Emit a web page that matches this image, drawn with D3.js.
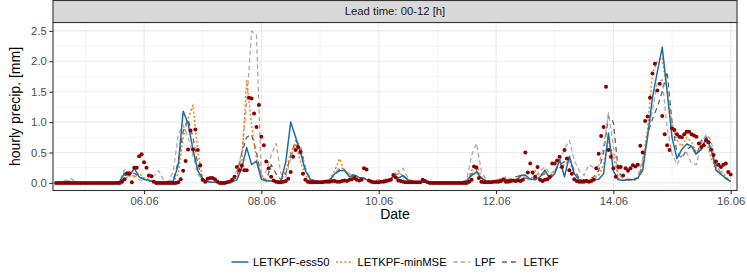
<!DOCTYPE html>
<html>
<head>
<meta charset="utf-8">
<script src="https://cdn.jsdelivr.net/npm/d3@7"></script>
<style>
    body { margin: 0; background: #fff; }
    #precip-chart { width: 747px; height: 280px; }
    text { font-family: "Liberation Sans", Arial, Helvetica, sans-serif; }
</style>
</head>
<body>
<div id="precip-chart"></div>
<script>
// first value of every series at 04.06 12:00 UTC
const startTime = Date.UTC(2016, 5, 4, 12);
const obsStepHours = 1;
const lineStepHours = 2;

// hourly observations
const obsValues = [
    0, 0, 0, 0, 0, 0, 0, 0, 0, 0, 0, 0,
    0, 0, 0, 0, 0, 0, 0, 0, 0, 0, 0, 0, 0, 0, 0, 0.02, 0.06, 0.16, 0.16, 0.01, 0.25, 0.25, 0.44, 0.47,
    0.34, 0.25, 0.12, 0.11, 0.02, 0, 0, 0, 0, 0, 0, 0, 0, 0, 0.01, 0.06, 0.2, 0.36, 0.55, 0.86, 0.55, 0.88, 0.54, 0.29,
    0.05, 0.02, 0.07, 0.08, 0.08, 0.06, 0.02, 0, 0, 0, 0.01, 0.02, 0.05, 0.1, 0.26, 0.21, 0.28, 0.21, 0.21, 1.4, 1.39, 1.14, 0.92, 1.28,
    0.76, 0.62, 0.35, 0.24, 0.1, 0.04, 0.02, 0.01, 0.01, 0.02, 0.03, 0.07, 0.18, 0.43, 0.54, 0.59, 0.51, 0.15, 0.05, 0.02, 0.01, 0.01, 0.01, 0.01,
    0.01, 0.01, 0.02, 0.02, 0.02, 0.03, 0.03, 0.02, 0.02, 0.03, 0.04, 0.03, 0.05, 0.06, 0.08, 0.05, 0.04, 0.05, 0.24, 0.22, 0.04, 0.02, 0.01, 0.01,
    0.01, 0.02, 0.02, 0.03, 0.04, 0.05, 0.13, 0.09, 0.04, 0.03, 0.02, 0.01, 0.01, 0.01, 0.01, 0.01, 0.01, 0.01, 0.05, 0.03, 0.01, 0, 0, 0,
    0, 0, 0, 0, 0, 0, 0, 0, 0, 0, 0, 0, 0, 0.02, 0.05, 0.27, 0.25, 0.08, 0.02, 0.01, 0.01, 0.01, 0.01, 0.02,
    0.02, 0.02, 0.03, 0.05, 0.02, 0.02, 0.03, 0.04, 0.03, 0.04, 0.03, 0.05, 0.5, 0.17, 0.32, 0.17, 0.1, 0.26, 0.05, 0.03, 0.05, 0.06, 0.1, 0.32,
    0.32, 0.37, 0.43, 0.26, 0.54, 0.4, 0.21, 0.15, 0.06, 0.03, 0.02, 0.02, 0.02, 0.03, 0.02, 0.03, 0.05, 0.24, 0.48, 0.77, 0.92, 1.58, 0.54, 0.43,
    0.24, 0.1, 0.26, 0.26, 0.12, 0.24, 0.2, 0.24, 0.29, 0.27, 0.3, 0.61, 0.5, 1.02, 1.09, 1.4, 1.8, 1.96, 1.52, 1.63, 1.1, 0.8, 0.62, 0.54,
    0.9, 0.87, 0.8, 0.76, 0.75, 0.8, 0.84, 0.84, 0.8, 0.78, 0.76, 0.65, 0.59, 0.62, 0.7, 0.67, 0.55, 0.46, 0.35, 0.3, 0.26, 0.3, 0.32, 0.18,
    0.14
];

// 2-hourly forecasts
const ess50Values = [
    0, 0.01, 0.01, 0.01, 0, 0,
    0, 0, 0, 0, 0, 0, 0.01, 0.02, 0.16, 0.12, 0.24, 0.1,
    0.06, 0.04, 0.02, 0.01, 0.01, 0.01, 0.03, 0.3, 1.18, 0.98, 0.55, 0.2,
    0.06, 0.02, 0.01, 0.01, 0.01, 0.01, 0.02, 0.05, 0.25, 0.58, 0.3, 0.36,
    0.06, 0.03, 0.03, 0.02, 0.03, 0.35, 1.0, 0.75, 0.5, 0.2, 0.06, 0.03,
    0.02, 0.02, 0.05, 0.15, 0.2, 0.21, 0.1, 0.13, 0.09, 0.08, 0.03, 0.02,
    0.02, 0.03, 0.04, 0.1, 0.08, 0.12, 0.05, 0.02, 0.01, 0.01, 0.01, 0.01,
    0.01, 0.01, 0.01, 0.01, 0.01, 0.01, 0.03, 0.12, 0.18, 0.08, 0.03, 0.02,
    0.02, 0.03, 0.06, 0.04, 0.02, 0.12, 0.13, 0.06, 0.05, 0.1, 0.21, 0.07,
    0.15, 0.38, 0.1, 0.44, 0.15, 0.05, 0.04, 0.04, 0.05, 0.06, 0.15, 0.82,
    0.2, 0.05, 0.04, 0.06, 0.05, 0.08, 0.21, 0.76, 1.4, 1.83, 2.23, 1.5,
    0.75, 0.4, 0.55, 0.64, 0.6, 0.48, 0.55, 0.75, 0.55, 0.21, 0.14, 0.08,
    0.02
];

const minMSEValues = [
    0, 0, 0, 0.01, 0, 0,
    0, 0, 0, 0, 0, 0, 0, 0.01, 0.06, 0.12, 0.1, 0.16,
    0.08, 0.05, 0.03, 0.01, 0.01, 0.01, 0.02, 0.15, 0.75, 1.05, 1.28, 0.5,
    0.06, 0.02, 0.01, 0.01, 0.01, 0.01, 0.02, 0.1, 0.35, 1.68, 0.95, 0.4,
    0.12, 0.05, 0.03, 0.02, 0.03, 0.2, 0.5, 0.65, 0.35, 0.12, 0.04, 0.03,
    0.02, 0.03, 0.06, 0.2, 0.4, 0.2, 0.12, 0.1, 0.08, 0.06, 0.03, 0.02,
    0.02, 0.03, 0.05, 0.12, 0.2, 0.1, 0.05, 0.02, 0.01, 0.01, 0.01, 0.01,
    0.01, 0.01, 0.01, 0.01, 0.01, 0.01, 0.04, 0.2, 0.3, 0.1, 0.03, 0.02,
    0.03, 0.05, 0.08, 0.04, 0.06, 0.1, 0.08, 0.05, 0.2, 0.12, 0.18, 0.1,
    0.2, 0.25, 0.3, 0.36, 0.15, 0.05, 0.03, 0.04, 0.08, 0.12, 0.3, 0.7,
    0.45, 0.08, 0.04, 0.05, 0.04, 0.06, 0.3, 0.9, 1.8, 2.0, 2.06, 1.5,
    0.95, 0.7, 0.6, 0.75, 0.67, 0.5, 0.55, 0.7, 0.4, 0.25, 0.2, 0.1,
    0.03
];

const lpfValues = [
    0, 0.02, 0.04, 0.07, 0.02, 0,
    0, 0, 0, 0, 0, 0, 0.01, 0.02, 0.22, 0.1, 0.12, 0.05,
    0.04, 0.06, 0.12, 0.2, 0.05, 0.02, 0.2, 0.8, 0.95, 0.75, 0.45, 0.15,
    0.04, 0.01, 0.01, 0.01, 0.01, 0.02, 0.05, 0.2, 0.5, 1.3, 2.5, 2.43,
    0.08, 0.2, 0.45, 0.65, 0.15, 0.1, 0.4, 0.65, 0.55, 0.25, 0.05, 0.03,
    0.03, 0.04, 0.06, 0.15, 0.26, 0.22, 0.15, 0.12, 0.1, 0.08, 0.05, 0.04,
    0.05, 0.06, 0.06, 0.1, 0.15, 0.24, 0.08, 0.03, 0.02, 0.02, 0.02, 0.01,
    0.01, 0.01, 0.01, 0.01, 0.01, 0.02, 0.05, 0.45, 0.65, 0.2, 0.04, 0.03,
    0.05, 0.08, 0.1, 0.05, 0.06, 0.08, 0.1, 0.05, 0.1, 0.2, 0.26, 0.15,
    0.2, 0.35, 0.55, 0.7, 0.37, 0.2, 0.12, 0.3, 0.25, 0.28, 0.6, 1.15,
    0.6, 0.15, 0.06, 0.05, 0.06, 0.1, 0.4, 0.8, 1.2, 1.65, 1.7, 0.9,
    0.48, 0.3, 0.45, 0.5, 0.32, 0.3, 0.65, 0.8, 0.7, 0.26, 0.15, 0.08,
    0.04
];

const letkfValues = [
    0, 0.01, 0.02, 0.03, 0.01, 0,
    0, 0, 0, 0, 0, 0, 0, 0.01, 0.12, 0.14, 0.16, 0.1,
    0.06, 0.03, 0.02, 0.01, 0.01, 0.01, 0.05, 0.35, 0.85, 1.05, 0.75, 0.3,
    0.06, 0.02, 0.01, 0.01, 0.01, 0.01, 0.03, 0.1, 0.5, 0.75, 0.8, 0.5,
    0.1, 0.04, 0.3, 0.15, 0.05, 0.15, 0.45, 0.7, 0.6, 0.25, 0.06, 0.03,
    0.02, 0.03, 0.05, 0.15, 0.22, 0.2, 0.15, 0.12, 0.09, 0.07, 0.03, 0.02,
    0.02, 0.04, 0.05, 0.12, 0.15, 0.12, 0.04, 0.02, 0.01, 0.01, 0.01, 0.01,
    0.01, 0.01, 0.01, 0.01, 0.01, 0.01, 0.04, 0.15, 0.2, 0.08, 0.03, 0.02,
    0.04, 0.06, 0.05, 0.06, 0.1, 0.12, 0.08, 0.06, 0.08, 0.12, 0.15, 0.1,
    0.2, 0.3, 0.35, 0.4, 0.2, 0.08, 0.05, 0.06, 0.1, 0.2, 0.5, 1.1,
    1.0, 0.2, 0.05, 0.04, 0.05, 0.08, 0.3, 0.8, 1.05, 1.25, 1.5, 1.83,
    1.0, 0.5, 0.4, 0.55, 0.6, 0.45, 0.7, 0.75, 0.55, 0.3, 0.15, 0.07,
    0.02
];

const seriesNames = ["LETKPF-ess50", "LETKPF-minMSE", "LPF", "LETKF"];
const majorTickDays = [6, 8, 10, 12, 14, 16];
const minorTickDays = [5, 7, 9, 11, 13, 15];
const yTicks = [0, 0.5, 1, 1.5, 2, 2.5];
const yMinorTicks = [0.25, 0.75, 1.25, 1.75, 2.25];
const stripLabel = "Lead time: 00-12 [h]";
const xTitle = "Date";
const yTitle = "hourly precip. [mm]";


class PrecipChart {

    constructor(parentElement, data) {
        this.parentElement = parentElement;
        this.data = data;

        this.initVis();
    }

    initVis() {
        let vis = this;

        vis.panel = {left: 53, right: 737, top: 22.5, bottom: 190.5};
        vis.stripTop = 0.5;

        vis.svg = d3.select("#" + vis.parentElement).append("svg")
            .attr("width", 747)
            .attr("height", 280);

        vis.x = d3.scaleUtc()
            .domain([new Date(Date.UTC(2016, 5, 4, 10, 45)), new Date(Date.UTC(2016, 5, 16, 2, 35))])
            .range([vis.panel.left, vis.panel.right]);

        vis.y = d3.scaleLinear()
            .domain([-0.125, 2.638])
            .range([vis.panel.bottom, vis.panel.top]);

        vis.styles = {
            "LETKPF-ess50": {color: "#1b6fa6", dash: null, width: 1.5},
            "LETKPF-minMSE": {color: "#ff7f0e", dash: "2,2.2", width: 1.5},
            "LPF": {color: "#ababab", dash: "4.5,3", width: 1.3},
            "LETKF": {color: "#5f5f5f", dash: "5,4", width: 1.3}
        };

        vis.wrangleData();
    }

    wrangleData() {
        let vis = this;

        const toDate = (i, step) => new Date(startTime + i * step * 3600 * 1000);

        vis.obs = vis.data.obs.map((v, i) => ({date: toDate(i, obsStepHours), value: v}));
        vis.lines = seriesNames.map(name => ({
            name: name,
            values: vis.data[name].map((v, i) => ({date: toDate(i, lineStepHours), value: v}))
        }));

        vis.updateVis();
    }

    updateVis() {
        let vis = this;
        const p = vis.panel;
        const dayDate = d => new Date(Date.UTC(2016, 5, d));

        // panel background + grid
        vis.svg.append("rect")
            .attr("x", p.left).attr("y", p.top)
            .attr("width", p.right - p.left).attr("height", p.bottom - p.top)
            .attr("fill", "#fff");

        const grid = vis.svg.append("g");
        grid.selectAll(".y-minor").data(yMinorTicks).enter().append("line")
            .attr("x1", p.left).attr("x2", p.right)
            .attr("y1", d => vis.y(d)).attr("y2", d => vis.y(d))
            .attr("stroke", "#ebebeb").attr("stroke-width", 0.55);
        grid.selectAll(".x-minor").data(minorTickDays).enter().append("line")
            .attr("y1", p.top).attr("y2", p.bottom)
            .attr("x1", d => vis.x(dayDate(d))).attr("x2", d => vis.x(dayDate(d)))
            .attr("stroke", "#ebebeb").attr("stroke-width", 0.55);
        grid.selectAll(".y-major").data(yTicks).enter().append("line")
            .attr("x1", p.left).attr("x2", p.right)
            .attr("y1", d => vis.y(d)).attr("y2", d => vis.y(d))
            .attr("stroke", "#ebebeb").attr("stroke-width", 1.1);
        grid.selectAll(".x-major").data(majorTickDays).enter().append("line")
            .attr("y1", p.top).attr("y2", p.bottom)
            .attr("x1", d => vis.x(dayDate(d))).attr("x2", d => vis.x(dayDate(d)))
            .attr("stroke", "#ebebeb").attr("stroke-width", 1.1);

        // lines, drawn back to front
        vis.line = d3.line()
            .x(d => vis.x(d.date))
            .y(d => vis.y(d.value));

        const drawOrder = ["LETKF", "LPF", "LETKPF-minMSE", "LETKPF-ess50"];
        vis.svg.append("clipPath").attr("id", "panel-clip")
            .append("rect")
            .attr("x", p.left).attr("y", p.top)
            .attr("width", p.right - p.left).attr("height", p.bottom - p.top);

        const plot = vis.svg.append("g").attr("clip-path", "url(#panel-clip)");

        plot.selectAll(".trend-line")
            .data(drawOrder.map(n => vis.lines.find(l => l.name === n)))
            .enter().append("path")
            .attr("class", "trend-line")
            .attr("fill", "none")
            .attr("stroke", d => vis.styles[d.name].color)
            .attr("stroke-width", d => vis.styles[d.name].width)
            .attr("stroke-dasharray", d => vis.styles[d.name].dash)
            .attr("stroke-linejoin", "round")
            .attr("d", d => vis.line(d.values));

        plot.selectAll(".obs-point")
            .data(vis.obs)
            .enter().append("circle")
            .attr("class", "obs-point")
            .attr("cx", d => vis.x(d.date))
            .attr("cy", d => vis.y(d.value))
            .attr("r", 2.0)
            .attr("fill", "#8b0000");

        // panel border
        vis.svg.append("rect")
            .attr("x", p.left).attr("y", p.top)
            .attr("width", p.right - p.left).attr("height", p.bottom - p.top)
            .attr("fill", "none").attr("stroke", "#333").attr("stroke-width", 1.1);

        // facet strip
        vis.svg.append("rect")
            .attr("x", p.left).attr("y", vis.stripTop)
            .attr("width", p.right - p.left).attr("height", p.top - vis.stripTop)
            .attr("fill", "#d9d9d9").attr("stroke", "#333").attr("stroke-width", 1.1);
        vis.svg.append("text")
            .attr("x", (p.left + p.right) / 2)
            .attr("y", (p.top + vis.stripTop) / 2)
            .attr("dy", "0.35em")
            .attr("text-anchor", "middle")
            .attr("font-size", "11.3px")
            .attr("fill", "#1a1a1a")
            .text(stripLabel);

        // axes
        vis.xAxis = d3.axisBottom(vis.x)
            .tickValues(majorTickDays.map(dayDate))
            .tickFormat(d3.utcFormat("%d.%m"))
            .tickSize(3.7)
            .tickPadding(2.5);
        vis.yAxis = d3.axisLeft(vis.y)
            .tickValues(yTicks)
            .tickFormat(d3.format(".1f"))
            .tickSize(3.7)
            .tickPadding(2.5);

        const xg = vis.svg.append("g")
            .attr("class", "x-axis")
            .attr("transform", `translate(0, ${p.bottom})`)
            .call(vis.xAxis);
        const yg = vis.svg.append("g")
            .attr("class", "y-axis")
            .attr("transform", `translate(${p.left}, 0)`)
            .call(vis.yAxis);

        [xg, yg].forEach(g => {
            g.select(".domain").remove();
            g.selectAll(".tick line").attr("stroke", "#333").attr("stroke-width", 1.1);
            g.selectAll(".tick text")
                .attr("fill", "#4d4d4d")
                .attr("font-size", "11.3px")
                .attr("font-family", "Liberation Sans, Arial, sans-serif");
        });

        vis.svg.append("text")
            .attr("x", (p.left + p.right) / 2)
            .attr("y", 219)
            .attr("text-anchor", "middle")
            .attr("font-size", "14px")
            .attr("fill", "#000")
            .text(xTitle);

        vis.svg.append("text")
            .attr("transform", `translate(20, ${(p.top + p.bottom) / 2}) rotate(-90)`)
            .attr("text-anchor", "middle")
            .attr("font-size", "14px")
            .attr("fill", "#000")
            .text(yTitle);

        // legend
        const legend = vis.svg.append("g");
        const keyWidth = 17, keyGap = 4.5, itemGap = 6.5, legendY = 262;
        let cursor = 0;
        seriesNames.forEach(name => {
            const g = legend.append("g");
            g.append("line")
                .attr("x1", 0).attr("x2", keyWidth)
                .attr("y1", 0).attr("y2", 0)
                .attr("stroke", vis.styles[name].color)
                .attr("stroke-width", vis.styles[name].width)
                .attr("stroke-dasharray", vis.styles[name].dash);
            const t = g.append("text")
                .attr("x", keyWidth + keyGap)
                .attr("dy", "0.35em")
                .attr("font-size", "11.3px")
                .attr("fill", "#000")
                .text(name);
            const w = keyWidth + keyGap + t.node().getComputedTextLength();
            g.attr("transform", `translate(${cursor}, 0)`);
            cursor += w + itemGap;
        });
        const totalWidth = cursor - itemGap;
        legend.attr("transform", `translate(${(p.left + p.right) / 2 - totalWidth / 2}, ${legendY})`);
    }

}

new PrecipChart("precip-chart", {
    "obs": obsValues,
    "LETKPF-ess50": ess50Values,
    "LETKPF-minMSE": minMSEValues,
    "LPF": lpfValues,
    "LETKF": letkfValues
});
</script>
</body>
</html>
